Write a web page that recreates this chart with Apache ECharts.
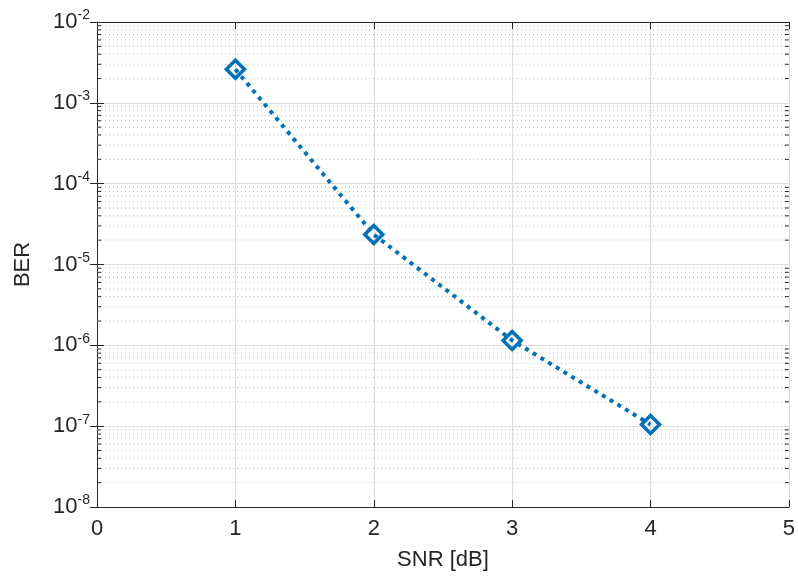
<!DOCTYPE html>
<html>
<head>
<meta charset="utf-8">
<script src="https://cdn.jsdelivr.net/npm/echarts@6/dist/echarts.min.js"></script>
<style>
  html, body { margin: 0; padding: 0; background: #fff; }
  #chart { width: 798px; height: 576px; }
</style>
</head>
<body>
<div id="chart"></div>
<script>
  // SNR values and bit error rate
  const snr = [1, 2, 3, 4];
  const ber = [2.6e-3, 2.35e-5, 1.15e-6, 1.05e-7];
  const decades = [-8, -7, -6, -5, -4, -3, -2];

  // minor grid values 2..9 in each decade
  const minorVals = [];
  decades.slice(0, -1).forEach(d => {
    for (let k = 2; k <= 9; k++) minorVals.push(k * Math.pow(10, d));
  });

  const chart = echarts.init(document.getElementById('chart'));
  const textColor = '#262626';
  const font = 'Liberation Sans, Arial, sans-serif';

  const supLabel = v => {
    const e = Math.round(Math.log10(v));
    return '{b|10}{s|' + e + '}';
  };

  // dotted minor grid + short minor ticks on both y axes
  const renderMinor = (params, api) => {
    const v = api.value(0);
    const p0 = api.coord([0, v]);
    const p1 = api.coord([5, v]);
    return {
      type: 'group',
      children: [
        {
          type: 'line',
          shape: { x1: p0[0], y1: p0[1], x2: p1[0], y2: p1[1] },
          style: { stroke: '#bdbdbd', lineWidth: 1, lineDash: [1, 3] }
        },
        {
          type: 'line',
          shape: { x1: p0[0], y1: p0[1], x2: p0[0] + 4, y2: p0[1] },
          style: { stroke: textColor, lineWidth: 1 }
        },
        {
          type: 'line',
          shape: { x1: p1[0] - 4, y1: p1[1], x2: p1[0], y2: p1[1] },
          style: { stroke: textColor, lineWidth: 1 }
        }
      ]
    };
  };

  const options = {
    animation: false,
    grid: { left: 97, right: 7, top: 22, bottom: 69 },
    xAxis: [
      {
        type: 'value', min: 0, max: 5, interval: 1,
        name: 'SNR [dB]', nameLocation: 'middle', nameGap: 42,
        nameTextStyle: { color: textColor, fontSize: 22, fontFamily: font },
        axisLine: { lineStyle: { color: textColor, width: 1 } },
        axisTick: { inside: true, length: 7, lineStyle: { color: textColor } },
        axisLabel: { color: textColor, fontSize: 22, fontFamily: font, margin: 11 },
        splitLine: { show: true, lineStyle: { color: '#dcdcdc', width: 1 } }
      },
      {
        type: 'value', min: 0, max: 5, interval: 1, position: 'top',
        axisLine: { lineStyle: { color: textColor, width: 1 } },
        axisTick: { inside: true, length: 7, lineStyle: { color: textColor } },
        axisLabel: { show: false },
        splitLine: { show: false }
      }
    ],
    yAxis: [
      {
        type: 'log', logBase: 10, min: 1e-8, max: 1e-2, splitNumber: 6, interval: 1,
        name: 'BER', nameLocation: 'middle', nameGap: 63, nameRotate: 90,
        nameTextStyle: { color: textColor, fontSize: 22, fontFamily: font },
        axisLine: { show: true, lineStyle: { color: textColor, width: 1 } },
        axisTick: { inside: true, length: 7, lineStyle: { color: textColor } },
        axisLabel: {
          fontFamily: font, margin: 7,
          formatter: supLabel,
          rich: {
            b: { color: textColor, fontSize: 22, fontFamily: font },
            s: { color: textColor, fontSize: 14, fontFamily: font, verticalAlign: 'bottom', padding: [0, 0, 13, 0] }
          }
        },
        splitLine: { show: true, lineStyle: { color: '#dcdcdc', width: 1 } }
      },
      {
        type: 'log', logBase: 10, min: 1e-8, max: 1e-2, splitNumber: 6, interval: 1, position: 'right',
        axisLine: { show: true, lineStyle: { color: textColor, width: 1 } },
        axisTick: { inside: true, length: 7, lineStyle: { color: textColor } },
        axisLabel: { show: false },
        splitLine: { show: false }
      }
    ],
    series: [
      {
        type: 'custom',
        silent: true,
        renderItem: renderMinor,
        data: minorVals.map(v => [v]),
        encode: { y: 0 },
        z: 1
      },
      {
        type: 'line',
        data: snr.map((x, i) => [x, ber[i]]),
        symbol: 'diamond',
        symbolSize: [18, 18],
        lineStyle: { color: '#0072BD', width: 4, type: [4, 5] },
        itemStyle: { color: 'rgba(255,255,255,0)', borderColor: '#0072BD', borderWidth: 3.5 },
        z: 5
      }
    ]
  };

  chart.setOption(options);
</script>
</body>
</html>
